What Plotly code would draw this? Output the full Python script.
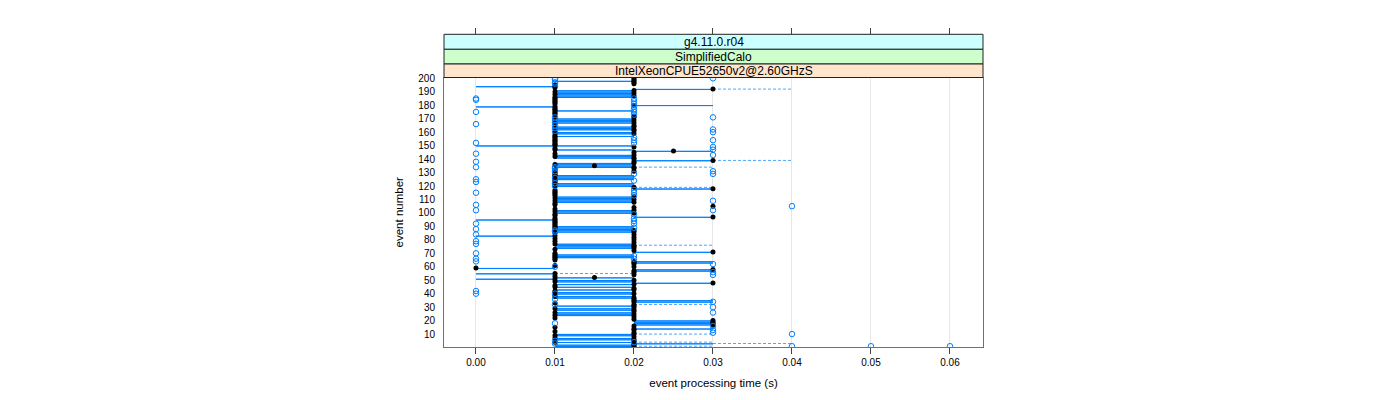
import plotly.graph_objects as go

# ---------------- data ----------------
# box-and-whisker summaries per event (events listed from 200 down to 1), times in ms
event = list(range(200, 0, -1))

q1_ms = [20,20,10,20,20,10, 0,10,20,10,
         10,10,10,10,10,10,10,10,10,10,
         20, 0,10,10,10,10,10,10,20,20,
         10,10,10,10,10,20,10,10,10,20,
         10,10,10,10,10,10,10,10,10,10,
          0,20,10,10,20,20,10,10,10,10,
         20,20,20,10,10,10,10,20,10,20,
         10,10,10,10,10,10,10,10,10,10,
         10,20,20,10,10,10,10,10,10,10,
         10,10,10,10,10,30,20,10,10,10,
         10,10,10,20,10, 0,10,10,10,10,
         10,10,10,10,10,10,20, 0,20,10,
         20,10,20,10,10,10,10,10,20,20,
         10,10,10,10,10,10,20,20,20,10,
         20, 0,20,20,20, 0,20,10,10, 0,
         10,10,20,10,10,10,20,10,10,10,
         10,10,10,10,20,20,20,10,20,10,
         20,10,10,20,10,10,10,20,10,20,
         20,20,20,20,20,10,20,20,10,20,
         10,10,20,10,10,20,10,20,10,10]
med_ms = [20,20,20,20,20,10,10,10,30,20,
          10,20,10,20,10,10,10,10,10,10,
          20,10,10,10,10,10,10,10,20,20,
          10,20,10,20,10,20,20,10,20,20,
          10,20,10,10,10,10,10,10,10,10,
          10,20,10,10,25,20,10,20,10,20,
          20,30,20,20,10,15,20,20,10,20,
          10,10,10,10,10,10,10,10,10,10,
          10,20,30,10,10,10,10,10,20,10,
          20,10,20,10,10,30,20,10,20,10,
          20,10,10,30,10,10,10,10,10,10,
          10,10,10,20,20,10,20,10,20,10,
          20,10,20,10,20,20,20,10,20,30,
          10,10,10,10,10,10,20,20,20,10,
          20, 0,30,20,20,10,20,10,15,10,
          20,10,30,20,10,10,20,20,10,10,
          20,10,10,20,20,20,20,10,20,20,
          20,10,20,20,10,20,10,20,10,20,
          30,30,30,30,20,10,20,20,10,20,
          20,10,20,10,20,20,10,20,20,20]
q3_ms = [20,20,20,20,20,10,10,10,30,20,
         20,20,20,20,20,10,10,10,10,10,
         30,10,10,10,20,10,10,10,20,20,
         20,20,20,20,10,20,20,20,20,20,
         20,20,10,20,10,10,10,10,10,10,
         20,20,10,20,30,20,10,20,20,20,
         20,30,20,20,20,20,20,20,10,20,
         10,10,20,20,20,20,10,10,20,20,
         20,20,30,10,10,10,10,10,20,20,
         20,20,20,10,10,30,20,10,20,20,
         20,10,10,30,10,10,10,10,10,10,
         20,20,20,20,20,10,20,10,20,10,
         20,10,20,20,20,20,20,10,20,30,
         10,20,20,20,10,10,30,30,20,10,
         20,10,30,30,20,10,20,10,20,10,
         20,20,30,20,10,20,20,20,10,20,
         20,10,20,20,20,30,30,10,20,20,
         20,20,20,20,20,20,20,20,10,20,
         30,30,30,30,20,10,30,20,10,20,
         20,20,20,20,20,20,20,30,20,20]

# upper whiskers that reach beyond the box
whisk_event = [192, 139, 134, 119, 76, 55, 32, 10, 4, 3, 1]
whisk_hi_ms = [40, 40, 30, 30, 30, 20, 30, 30, 30, 40, 30]

# outlying measurements
out_event = [200, 171, 162, 160, 154, 149, 147, 143, 131, 129, 109, 102, 62, 56, 54, 34, 30, 26, 16, 13, 11,
             185, 184, 175, 166, 152, 144, 138, 134, 125, 123, 115, 106, 102, 92, 88, 84, 79, 77, 70, 66, 64, 42, 40,
             105, 10, 1, 1, 1,
             200, 199, 197, 196, 171, 169, 167, 165, 163, 161, 134, 133, 131, 126, 122, 120, 87, 86, 60, 40, 36, 32, 18, 5, 3,
             185, 183, 181, 179, 177, 175, 173, 156, 154, 152, 129, 124, 117, 115, 113, 99, 96, 94, 92, 89, 68, 66, 4]
out_ms = [
    30, 30, 30, 30, 30, 30, 30, 30, 30, 30, 30, 30, 30, 30, 30, 30, 30, 30, 30, 30, 30,
    0, 0, 0, 0, 0, 0, 0, 0, 0, 0, 0, 0, 0, 0, 0, 0, 0, 0, 0, 0, 0, 0, 0,
    40, 40, 40, 50, 60,
    10, 10, 10, 10, 10, 10, 10, 10, 10, 10, 10, 10, 10, 10, 10, 10, 10, 10, 10, 10, 10, 10, 10, 10, 10,
    20, 20, 20, 20, 20, 20, 20, 20, 20, 20, 20, 20, 20, 20, 20, 20, 20, 20, 20, 20, 20, 20, 20]

x_tick_vals = [0.00, 0.01, 0.02, 0.03, 0.04, 0.05, 0.06]
x_tick_text = ["0.00", "0.01", "0.02", "0.03", "0.04", "0.05", "0.06"]
y_tick_vals = [10, 20, 30, 40, 50, 60, 70, 80, 90, 100, 110, 120, 130, 140, 150, 160, 170, 180, 190, 200]
strip_labels = ["g4.11.0.r04", "SimplifiedCalo", "IntelXeonCPUE52650v2@2.60GHzS"]

assert len(q1_ms) == len(med_ms) == len(q3_ms) == len(event) == 200
assert len(out_event) == len(out_ms)

# ---------------- build marks ----------------
BLUE = "#0080ff"
half = 0.25  # half box height in event units (box.ratio = 1)

box_x, box_y = [], []
for e, a, b in zip(event, q1_ms, q3_ms):
    xa, xb = a / 1000, b / 1000
    box_x += [xa, xb, xb, xa, xa, None]
    box_y += [e - half, e - half, e + half, e + half, e - half, None]

q3_by_event = dict(zip(event, q3_ms))
wh_x, wh_y = [], []
for e, hi in zip(whisk_event, whisk_hi_ms):
    wh_x += [q3_by_event[e] / 1000, hi / 1000, None]
    wh_y += [e, e, None]

fig = go.Figure()
fig.add_trace(go.Scatter(x=box_x, y=box_y, mode="lines",
                         line=dict(color=BLUE, width=1), hoverinfo="skip", showlegend=False))
fig.add_trace(go.Scatter(x=wh_x, y=wh_y, mode="lines",
                         line=dict(color="#4da6ff", width=1, dash="3px,2px"),
                         hoverinfo="skip", showlegend=False))
fig.add_trace(go.Scatter(x=[m / 1000 for m in med_ms], y=event, mode="markers",
                         marker=dict(symbol="circle", size=5, color="black"),
                         showlegend=False))
fig.add_trace(go.Scatter(x=[m / 1000 for m in out_ms], y=out_event, mode="markers",
                         marker=dict(symbol="circle-open", size=5.5, color=BLUE,
                                     line=dict(width=1, color=BLUE)),
                         showlegend=False))
# invisible trace carrying the top tick axis
fig.add_trace(go.Scatter(x=[None], y=[None], xaxis="x2", yaxis="y",
                         mode="markers", showlegend=False, hoverinfo="skip"))

# ---------------- layout ----------------
W, H = 1400, 400
PAGE_OFF = 8            # default body margin of the html page
mt, mb = 20, 61
ph = H - mt - mb
bottom_px = PAGE_OFF + H - mb


def py2paper(py):
    return (bottom_px - py) / ph


plot_top = py2paper(77.5)
strip_edges = [py2paper(34.3), py2paper(49.3), py2paper(64.0), plot_top]
strip_fill = ["#ccffff", "#ccffcc", "#ffe5cc"]

FONT = "Liberation Sans, Arial, sans-serif"

shapes, annotations = [], []
for i, lab in enumerate(strip_labels):
    y1, y0 = strip_edges[i], strip_edges[i + 1]
    shapes.append(dict(type="rect", xref="paper", yref="paper", x0=0, x1=1, y0=y0, y1=y1,
                       fillcolor=strip_fill[i], line=dict(color="#222", width=1), layer="above"))
    annotations.append(dict(xref="paper", yref="paper", x=0.5, y=(y0 + y1) / 2, text=lab,
                            showarrow=False, font=dict(family=FONT, size=12, color="black"),
                            xanchor="center", yanchor="middle"))

x_range = [-0.00405, 0.06418]

fig.update_layout(
    width=W, height=H,
    margin=dict(l=436, r=425, t=mt, b=mb),
    paper_bgcolor="white", plot_bgcolor="white",
    font=dict(family=FONT, size=10, color="black"),
    shapes=shapes, annotations=annotations,
    xaxis=dict(range=x_range, tickvals=x_tick_vals, ticktext=x_tick_text,
               ticks="outside", ticklen=6, tickcolor="#444", tickwidth=1,
               showline=True, mirror=True, linecolor="#707070", linewidth=1,
               showgrid=True, gridcolor="#e6e6e6", gridwidth=1, zeroline=False,
               tickfont=dict(size=10),
               title=dict(text="event processing time (s)", font=dict(size=11.5), standoff=11)),
    xaxis2=dict(range=x_range, overlaying="x", side="top", anchor="free",
                position=strip_edges[0], tickvals=x_tick_vals, showticklabels=False,
                ticks="outside", ticklen=6, tickcolor="#444", showline=False,
                showgrid=False, zeroline=False),
    yaxis=dict(range=[0.4, 200.6], domain=[0, plot_top], tickvals=y_tick_vals,
               ticks="outside", ticklen=6, tickcolor="rgba(0,0,0,0)",
               showline=True, mirror=True, linecolor="#707070", linewidth=1,
               showgrid=False, zeroline=False, tickfont=dict(size=10),
               title=dict(text="event number", font=dict(size=11.5), standoff=12)),
)

fig.write_html("out.html")
